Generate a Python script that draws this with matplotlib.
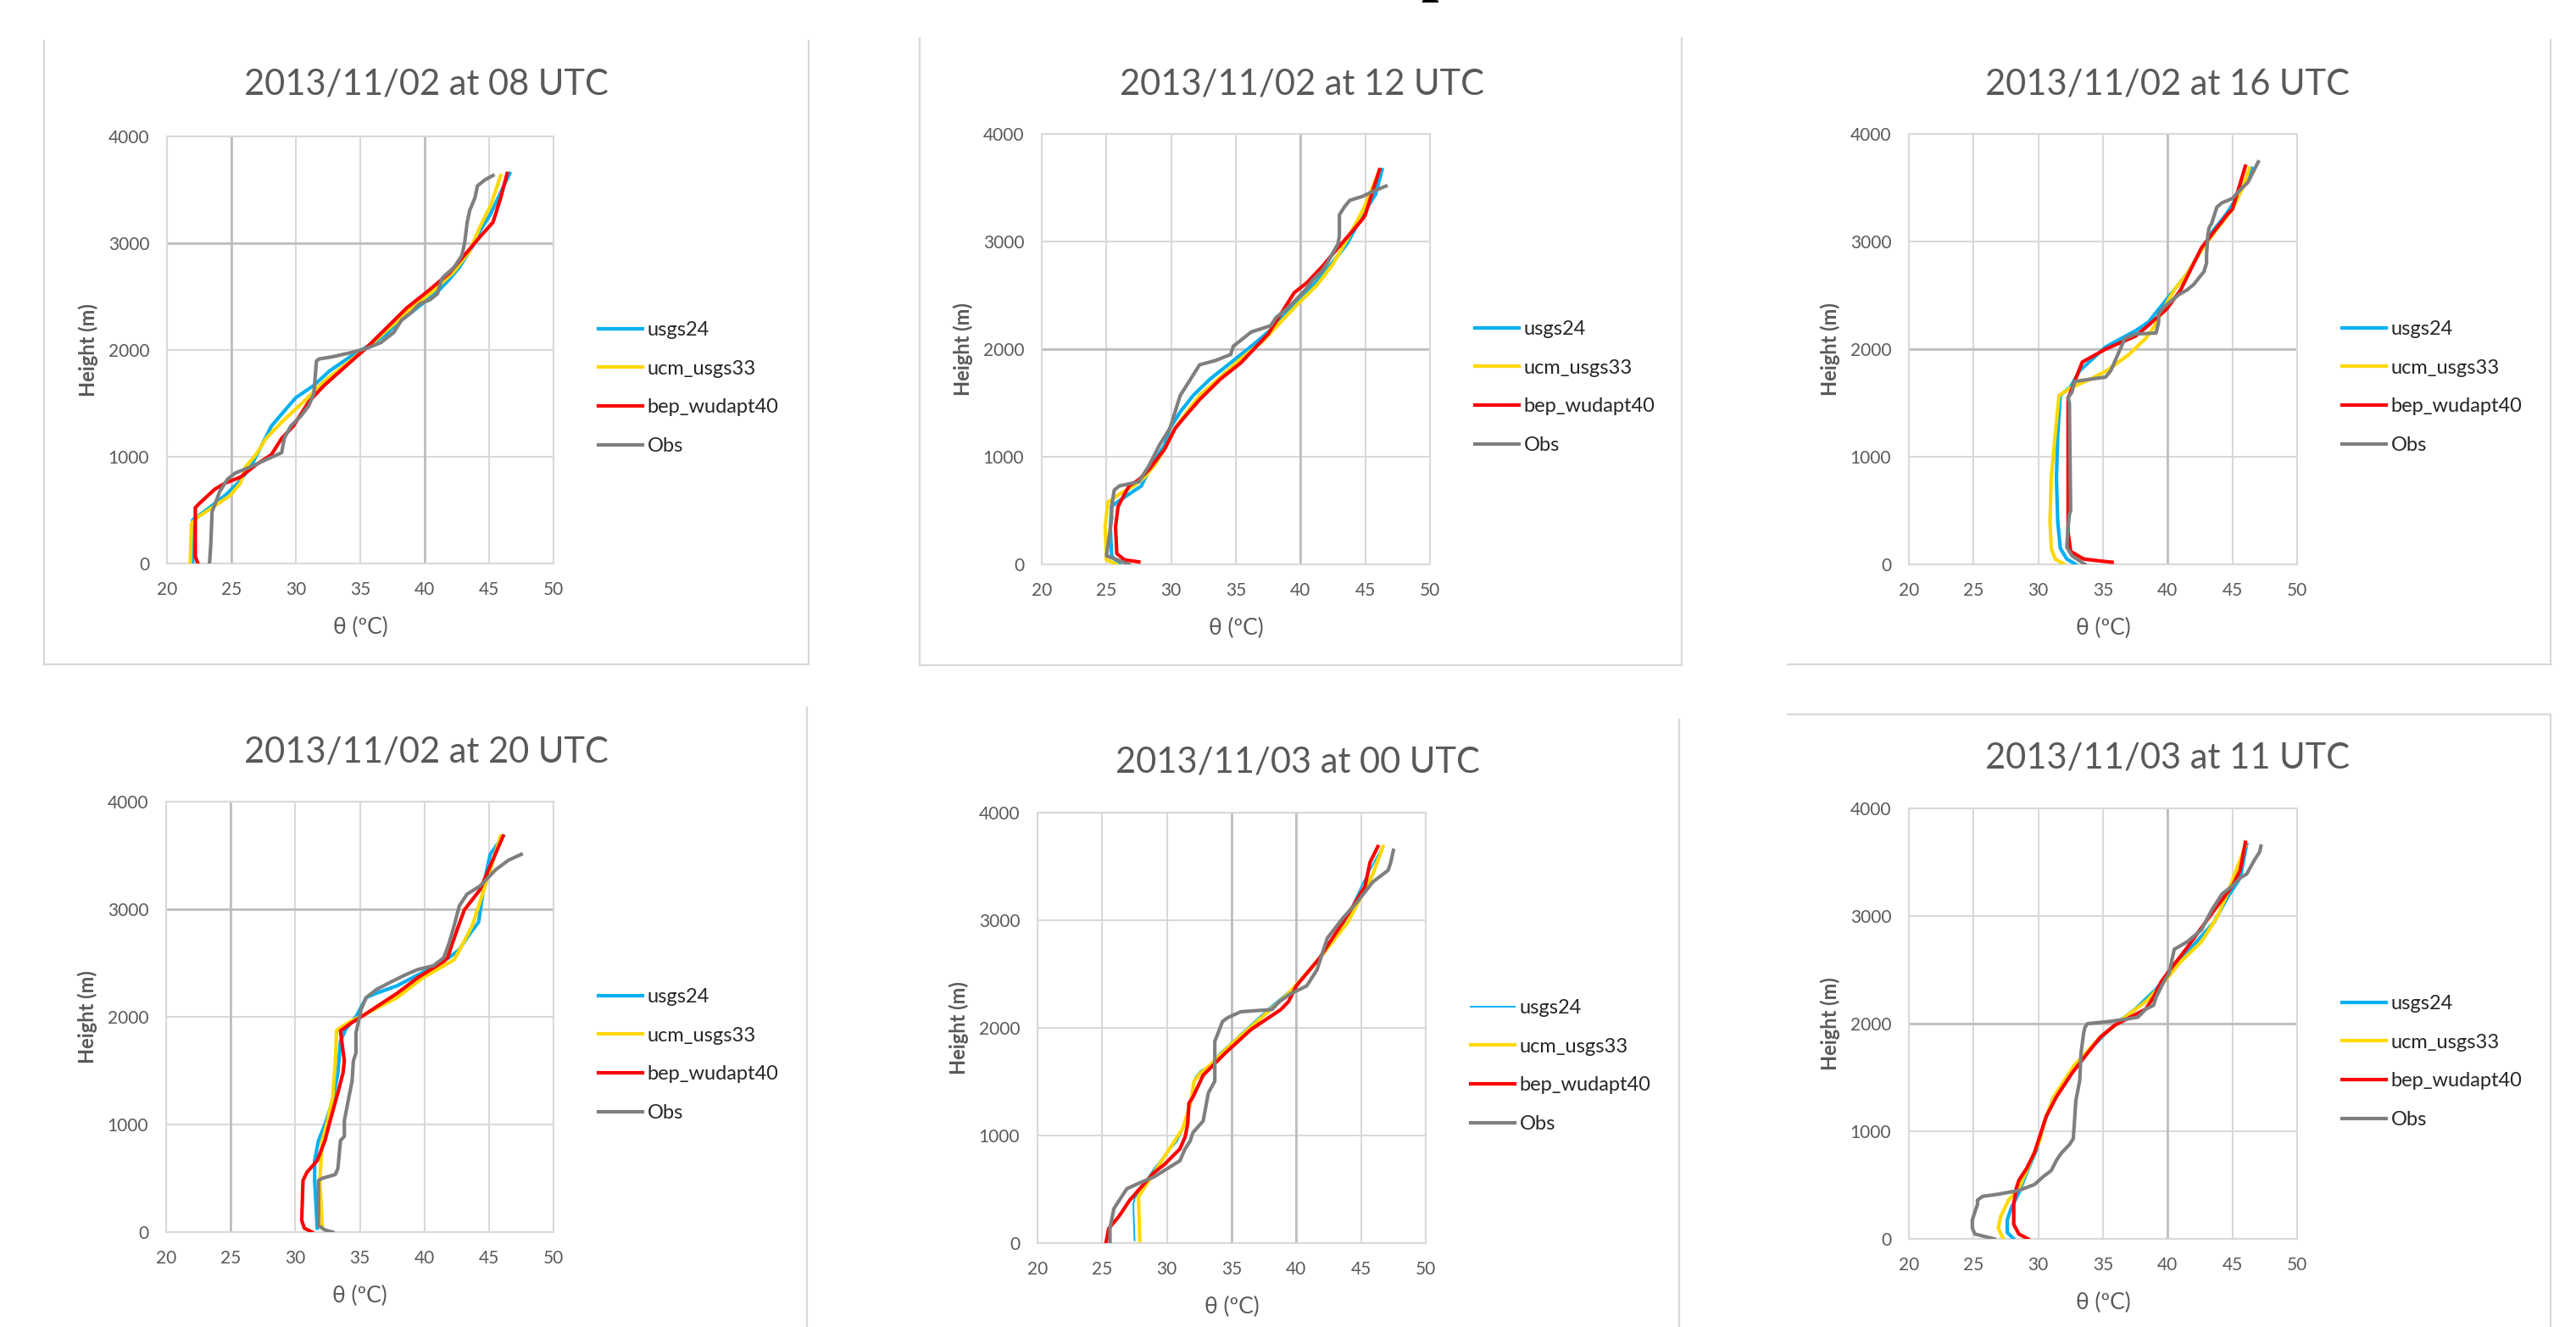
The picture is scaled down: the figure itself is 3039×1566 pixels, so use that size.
import matplotlib.pyplot as plt
from matplotlib.lines import Line2D

plt.rcParams['font.family'] = ['Lato', 'DejaVu Sans']

# potential temperature profiles (theta in ºC, height in m)
series_names = ['usgs24', 'ucm_usgs33', 'bep_wudapt40', 'Obs']
titles = ['2013/11/02 at 08 UTC', '2013/11/02 at 12 UTC', '2013/11/02 at 16 UTC',
          '2013/11/02 at 20 UTC', '2013/11/03 at 00 UTC', '2013/11/03 at 11 UTC']
x_ticks = [20, 25, 30, 35, 40, 45, 50]
y_ticks = [0, 1000, 2000, 3000, 4000]

# --- 2013/11/02 08 UTC
usgs24_08 = [(22.0, 0), (22.0, 300), (22.0, 408), (23.3, 523), (24.5, 637), (25.5, 752), (26.5, 905),
             (27.3, 1095), (28.1, 1286), (28.9, 1400), (30.0, 1553), (31.4, 1668), (32.6, 1802),
             (34.2, 1935), (35.8, 2050), (37.0, 2145), (37.8, 2240), (39.0, 2355), (40.2, 2470),
             (41.0, 2546), (41.9, 2660), (42.7, 2775), (43.7, 2966), (44.3, 3118), (45.1, 3271),
             (45.7, 3424), (46.6, 3653)]
ucm_08 = [(21.8, 0), (21.9, 370), (22.3, 427), (23.5, 523), (24.9, 637), (25.7, 752), (26.1, 905),
          (26.9, 1019), (27.7, 1172), (28.9, 1324), (30.6, 1515), (32.2, 1706), (34.2, 1897),
          (35.8, 2050), (37.4, 2221), (39.0, 2393), (40.6, 2546), (42.3, 2737), (43.5, 2927),
          (44.3, 3156), (45.1, 3347), (45.9, 3634)]
bep_08 = [(22.4, 0), (22.2, 65), (22.2, 523), (22.5, 561), (23.7, 695), (24.5, 752), (25.7, 809),
          (26.9, 924), (28.1, 1019), (28.9, 1172), (29.8, 1286), (31.0, 1515), (32.2, 1668),
          (33.8, 1840), (35.4, 2011), (37.0, 2202), (38.6, 2393), (40.2, 2546), (41.9, 2718),
          (43.1, 2889), (44.3, 3061), (45.3, 3195), (45.5, 3271), (45.9, 3424), (46.4, 3653)]
obs_08 = [(23.3, 0), (23.4, 179), (23.5, 485), (24.1, 676), (24.7, 790), (25.3, 847), (26.5, 905),
          (27.5, 962), (28.9, 1038), (29.1, 1172), (29.6, 1286), (30.4, 1382), (31.0, 1477),
          (31.4, 1592), (31.6, 1897), (31.8, 1916), (32.8, 1935), (34.2, 1973), (35.4, 2011),
          (36.6, 2069), (37.6, 2164), (38.2, 2279), (39.0, 2355), (39.6, 2431), (40.4, 2470),
          (41.0, 2527), (41.2, 2622), (41.4, 2679), (42.3, 2775), (42.9, 2889), (43.1, 3004),
          (43.3, 3195), (43.5, 3309), (43.9, 3424), (44.1, 3538), (44.7, 3595), (45.3, 3634)]

# --- 2013/11/02 12 UTC
usgs24_12 = [(26.0, 0), (25.4, 80), (25.3, 347), (25.4, 538), (25.8, 576), (26.75, 653), (27.7, 729),
             (28.3, 882), (29.5, 1110), (29.9, 1263), (30.7, 1416), (31.7, 1569), (33.0, 1721),
             (34.6, 1874), (36.2, 2027), (37.7, 2180), (38.9, 2332), (40.1, 2485), (41.3, 2637),
             (42.5, 2809), (43.6, 2981), (44.8, 3248), (45.8, 3439), (46.3, 3668)]
ucm_12 = [(25.8, 0), (25.0, 42), (24.9, 347), (25.1, 576), (26.0, 653), (27.1, 729), (27.9, 805),
          (28.7, 920), (29.5, 1072), (30.3, 1263), (31.1, 1397), (32.2, 1569), (33.8, 1740),
          (35.4, 1912), (37.0, 2065), (38.5, 2256), (39.7, 2408), (41.3, 2599), (42.5, 2790),
          (43.6, 3019), (44.8, 3286), (46.0, 3630)]
bep_12 = [(27.5, 23), (26.4, 42), (25.8, 99), (25.7, 347), (25.9, 538), (26.4, 653), (26.75, 729),
          (27.5, 786), (28.3, 882), (29.5, 1072), (30.3, 1263), (31.1, 1378), (32.2, 1531),
          (33.8, 1721), (35.4, 1874), (36.6, 2027), (37.5, 2141), (38.1, 2256), (38.9, 2408),
          (39.5, 2523), (40.5, 2618), (41.7, 2771), (42.9, 2943), (44.0, 3095), (44.8, 3210),
          (45.0, 3248), (45.4, 3401), (46.1, 3668)]
obs_12 = [(26.75, 0), (25.0, 80), (25.4, 424), (25.4, 538), (25.6, 690), (26.0, 729), (26.75, 748),
          (27.5, 767), (28.3, 920), (29.1, 1110), (29.9, 1263), (30.3, 1416), (30.7, 1569),
          (31.3, 1683), (31.9, 1798), (32.2, 1855), (33.4, 1893), (34.6, 1950), (34.8, 2027),
          (35.4, 2084), (36.2, 2160), (37.7, 2218), (38.1, 2294), (38.9, 2370), (39.7, 2466),
          (40.3, 2542), (40.9, 2637), (41.7, 2733), (42.1, 2809), (42.9, 2981), (43.0, 3057),
          (43.0, 3248), (43.4, 3324), (43.8, 3382), (44.8, 3420), (45.8, 3477), (46.6, 3515)]

# --- 2013/11/02 16 UTC
usgs24_16 = [(32.9, 0), (32.2, 50), (31.7, 150), (31.5, 400), (31.4, 800), (31.5, 1200), (31.7, 1570),
             (32.5, 1650), (33.2, 1800), (35.2, 2020), (37.5, 2170), (38.5, 2250), (39.5, 2400),
             (40.5, 2550), (41.5, 2700), (42.5, 2900), (43.5, 3100), (44.5, 3250), (45.3, 3400),
             (46.5, 3680)]
ucm_16 = [(32.0, 0), (31.3, 50), (31.0, 150), (30.9, 400), (31.0, 800), (31.3, 1200), (31.6, 1570),
          (32.5, 1640), (34.0, 1720), (35.3, 1800), (37.0, 1950), (38.3, 2100), (38.9, 2200),
          (39.8, 2400), (40.5, 2550), (41.5, 2700), (42.5, 2900), (43.7, 3100), (45.0, 3300),
          (45.8, 3500), (46.3, 3680)]
bep_16 = [(35.7, 20), (34.5, 35), (33.5, 50), (32.5, 120), (32.3, 300), (32.3, 800), (32.3, 1550),
          (32.5, 1600), (33.0, 1760), (33.4, 1880), (35.2, 2000), (37.5, 2120), (38.3, 2200),
          (39.9, 2370), (41.0, 2550), (42.6, 2940), (44.6, 3250), (45.0, 3300), (46.0, 3700)]
obs_16 = [(33.6, 0), (32.6, 80), (32.2, 160), (32.3, 350), (32.4, 460), (32.5, 500), (32.4, 1500),
          (32.3, 1550), (32.6, 1600), (32.8, 1700), (35.2, 1740), (35.6, 1800), (36.0, 1910),
          (36.4, 2020), (36.7, 2100), (37.5, 2140), (39.1, 2150), (39.3, 2250), (39.3, 2330),
          (39.7, 2390), (40.3, 2450), (40.9, 2510), (41.5, 2550), (42.0, 2600), (42.8, 2720),
          (43.0, 2800), (43.0, 2870), (43.1, 3060), (43.2, 3130), (43.4, 3170), (43.8, 3320),
          (44.2, 3360), (45.0, 3400), (45.6, 3480), (46.2, 3550), (46.7, 3670), (47.0, 3740)]

# --- 2013/11/02 20 UTC
usgs24_20 = [(31.7, 37), (31.5, 480), (31.5, 665), (31.8, 850), (32.3, 1000), (32.9, 1220), (33.3, 1480),
             (33.5, 1775), (33.9, 1885), (34.7, 2000), (35.5, 2180), (36.3, 2220), (37.9, 2290),
             (40.3, 2440), (41.9, 2550), (42.7, 2625), (43.5, 2770), (44.2, 2880), (44.7, 3290),
             (45.1, 3510), (46.1, 3680)]
ucm_20 = [(32.1, 37), (31.9, 480), (32.1, 850), (32.5, 1035), (32.9, 1255), (33.1, 1590), (33.2, 1870),
          (33.5, 1900), (34.3, 1960), (35.5, 2030), (37.9, 2180), (39.9, 2365), (42.3, 2530),
          (42.9, 2660), (43.7, 2845), (44.5, 3140), (45.1, 3365), (45.9, 3680)]
bep_20 = [(31.3, 0), (30.7, 37), (30.5, 110), (30.6, 480), (30.9, 555), (31.7, 665), (32.3, 850),
          (32.7, 1035), (33.3, 1295), (33.7, 1480), (33.8, 1590), (33.6, 1775), (33.5, 1870),
          (34.3, 1940), (35.3, 2015), (36.5, 2110), (37.9, 2220), (39.5, 2365), (41.5, 2515),
          (41.8, 2550), (42.1, 2660), (42.7, 2865), (43.1, 2995), (44.3, 3180), (46.1, 3680)]
obs_20 = [(32.9, 0), (32.3, 20), (31.8, 60), (31.8, 300), (31.8, 480), (32.1, 500), (33.1, 535),
          (33.3, 590), (33.5, 850), (33.8, 890), (33.8, 1035), (34.1, 1220), (34.4, 1405),
          (34.5, 1590), (34.7, 1665), (34.7, 1850), (35.1, 2070), (35.5, 2180), (36.3, 2255),
          (37.5, 2330), (38.7, 2400), (39.5, 2440), (40.7, 2475), (41.5, 2550), (41.9, 2680),
          (42.3, 2845), (42.7, 3030), (43.3, 3140), (44.3, 3215), (45.5, 3365), (46.5, 3455),
          (47.5, 3510)]

# --- 2013/11/03 00 UTC
usgs24_00 = [(27.5, 25), (27.4, 360), (27.5, 415), (28.2, 545), (29.0, 690), (30.0, 840), (30.8, 950),
             (31.4, 1100), (31.8, 1320), (32.2, 1540), (32.6, 1600), (33.3, 1650), (34.1, 1765),
             (36.1, 1985), (38.1, 2205), (39.6, 2355), (41.6, 2615), (43.6, 2945), (45.1, 3335),
             (46.6, 3670)]
ucm_00 = [(27.9, 25), (27.8, 430), (28.2, 505), (29.0, 655), (30.0, 840), (31.2, 1060), (31.8, 1285),
          (32.1, 1505), (32.6, 1580), (33.3, 1650), (34.9, 1840), (37.3, 2095), (39.4, 2320),
          (41.6, 2615), (44.0, 2985), (45.9, 3425), (46.7, 3685)]
bep_00 = [(25.3, 7), (25.5, 135), (26.3, 250), (27.1, 395), (27.9, 505), (29.0, 655), (29.8, 730),
          (31.0, 875), (31.4, 985), (31.6, 1100), (31.7, 1300), (32.0, 1355), (32.8, 1560),
          (34.5, 1765), (36.5, 1985), (38.8, 2170), (39.4, 2245), (40.0, 2390), (41.8, 2650),
          (42.8, 2835), (44.0, 3055), (45.3, 3315), (45.7, 3540), (46.3, 3685)]
obs_00 = [(25.6, 0), (25.6, 135), (25.9, 320), (26.3, 395), (26.9, 505), (27.9, 560), (29.0, 615),
          (30.0, 690), (31.0, 765), (31.4, 875), (31.8, 950), (32.0, 1025), (32.8, 1135),
          (33.2, 1395), (33.7, 1505), (33.7, 1875), (34.3, 2060), (34.7, 2095), (35.7, 2150),
          (38.1, 2170), (38.7, 2245), (39.6, 2320), (40.8, 2390), (41.6, 2540), (42.0, 2690),
          (42.4, 2835), (43.6, 3020), (44.7, 3170), (45.9, 3355), (47.1, 3465), (47.3, 3540),
          (47.5, 3650)]

# --- 2013/11/03 11 UTC
usgs24_11 = [(28.1, 0), (27.6, 60), (27.6, 175), (27.9, 285), (28.5, 430), (29.1, 615), (29.9, 840),
             (30.4, 1060), (31.2, 1320), (32.0, 1430), (32.8, 1580), (34.0, 1765), (35.2, 1910),
             (36.3, 2025), (37.5, 2135), (39.1, 2320), (40.5, 2520), (41.4, 2650), (43.6, 2945),
             (44.6, 3170), (45.6, 3355), (46.1, 3665)]
ucm_11 = [(27.3, 0), (26.9, 100), (27.1, 210), (27.7, 360), (28.5, 470), (29.3, 690), (30.1, 915),
          (30.6, 1135), (31.2, 1320), (32.0, 1470), (32.8, 1615), (34.8, 1875), (36.7, 2060),
          (38.3, 2205), (39.5, 2355), (41.0, 2575), (42.6, 2760), (43.8, 2985), (44.6, 3205),
          (46.0, 3650)]
bep_11 = [(29.2, 0), (28.5, 45), (28.1, 135), (28.1, 320), (28.3, 470), (28.5, 545), (29.1, 655),
          (29.7, 800), (30.2, 985), (30.6, 1135), (31.4, 1320), (32.6, 1540), (33.8, 1725),
          (34.8, 1875), (35.9, 1985), (37.1, 2060), (38.3, 2135), (38.9, 2245), (39.5, 2390),
          (40.3, 2520), (41.4, 2690), (43.6, 3055), (45.0, 3280), (45.6, 3425), (46.0, 3685)]
obs_11 = [(26.6, 0), (25.1, 45), (24.9, 100), (24.9, 175), (25.1, 250), (25.3, 320), (25.3, 360),
          (25.7, 395), (26.9, 415), (28.5, 450), (29.7, 505), (30.4, 580), (31.0, 635), (31.4, 730),
          (31.8, 800), (32.4, 875), (32.7, 930), (32.8, 1100), (32.9, 1285), (33.2, 1470),
          (33.3, 1725), (33.5, 1910), (33.6, 1965), (33.8, 2000), (35.5, 2020), (36.7, 2040),
          (37.7, 2060), (38.3, 2135), (38.9, 2170), (39.1, 2245), (39.7, 2390), (40.1, 2465),
          (40.3, 2575), (40.5, 2690), (41.5, 2760), (42.6, 2870), (43.4, 3055), (44.2, 3205),
          (45.0, 3280), (45.6, 3355), (46.1, 3390), (46.7, 3520), (47.1, 3595), (47.2, 3650)]

profiles = [
    [usgs24_08, ucm_08, bep_08, obs_08],
    [usgs24_12, ucm_12, bep_12, obs_12],
    [usgs24_16, ucm_16, bep_16, obs_16],
    [usgs24_20, ucm_20, bep_20, obs_20],
    [usgs24_00, ucm_00, bep_00, obs_00],
    [usgs24_11, ucm_11, bep_11, obs_11],
]

colors = ['#00b0f0', '#ffd800', '#ff0000', '#7f7f7f']

# layout in pixels: plot area (left, top, right, bottom) and title centre
W, H = 3039, 1566
plot_boxes = [(197, 161, 653, 665), (1229, 158, 1687, 666), (2252, 158, 2710, 666),
              (196, 946, 653, 1454), (1224, 959, 1682, 1467), (2252, 954, 2710, 1462)]
title_pos = [(503, 99), (1536, 99), (2557, 99), (503, 888), (1531, 899), (2557, 894)]
# gridlines that come out a bit darker in the pasted charts
dark_x = [[25, 40], [40], [40], [25], [35, 40], [40]]
dark_y = [[3000], [2000], [2000], [3000], [], [2000]]
# chart-area frames (x1, y1, x2, y2)
frames = [(52, 48, 52, 784), (52, 784, 954, 784), (954, 48, 954, 784),
          (1085, 45, 1085, 785), (1085, 785, 1984, 785), (1984, 45, 1984, 785),
          (2109, 784, 3009, 784), (3009, 47, 3009, 784),
          (952, 835, 952, 1566), (1981, 849, 1981, 1566),
          (2109, 843, 3009, 843), (3009, 843, 3009, 1566)]

fig = plt.figure(figsize=(W / 100, H / 100), dpi=100)


def fx(x):
    return x / W


def fy(y):
    return 1 - y / H


for x1, y1, x2, y2 in frames:
    fig.add_artist(Line2D([fx(x1), fx(x2)], [fy(y1), fy(y2)], transform=fig.transFigure,
                          color='#d9d9d9', lw=1.6))

# caption above the panels, mostly cut off by the page edge
fig.text(fx(1676), 1 + 13 / H, 'p', fontsize=53, fontweight='bold', family='Liberation Serif',
         ha='left', va='baseline', color='black')

for i, (left, top, right, bottom) in enumerate(plot_boxes):
    ax = fig.add_axes([fx(left), fy(bottom), (right - left) / W, (bottom - top) / H])
    axw, axh = right - left, bottom - top

    handles = []
    for k, prof in enumerate(profiles[i]):
        th = [p[0] for p in prof]
        z = [p[1] for p in prof]
        lw = 3.0
        if i == 4 and k == 0:
            lw = 1.4
        ln, = ax.plot(th, z, color=colors[k], lw=lw, solid_joinstyle='round', zorder=3 + k)
        handles.append(ln)

    ax.set_xlim(20, 50)
    ax.set_ylim(0, 4000)
    ax.set_xticks(x_ticks)
    ax.set_yticks(y_ticks)
    ax.grid(True, color='#d9d9d9', lw=1.5)
    ax.set_axisbelow(True)
    for xv in dark_x[i]:
        ax.axvline(xv, color='#bcbcbc', lw=1.9, zorder=1)
    for yv in dark_y[i]:
        ax.axhline(yv, color='#bcbcbc', lw=1.9, zorder=1)
    for s in ax.spines.values():
        s.set_color('#d9d9d9')
        s.set_linewidth(1.5)
    ax.tick_params(length=0, labelsize=15, labelcolor='#595959')
    ax.tick_params(axis='y', pad=15)
    ax.tick_params(axis='x', pad=15)

    ax.set_xlabel('θ (ºC)', fontsize=19, color='#595959')
    ax.xaxis.set_label_coords(0.5, -75 / axh)
    ax.xaxis.label.set_va('center')
    ax.set_ylabel('Height (m)', fontsize=17, color='#595959', fontweight='bold')
    ax.yaxis.set_label_coords(-93 / axw, 0.5)
    ax.yaxis.label.set_va('center')

    ax.legend(handles, series_names, loc='center left',
              bbox_to_anchor=(1 + 53 / axw, 0.5 - 45 / axh), frameon=False, fontsize=17,
              handlelength=2.2, handletextpad=0.25, labelspacing=1.05, borderpad=0,
              borderaxespad=0, labelcolor='#262626')

    tx, ty = title_pos[i]
    fig.text(fx(tx), fy(ty), titles[i], fontsize=30, color='#595959', ha='center', va='center')

fig.savefig('out.png', dpi=100)
